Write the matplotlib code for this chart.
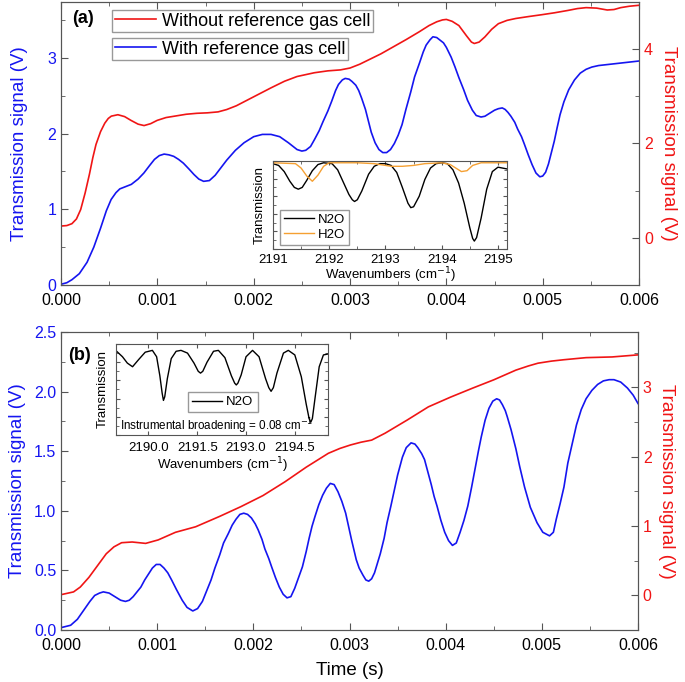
#!/usr/bin/env python3

import numpy
import matplotlib
matplotlib.use('Agg')
import matplotlib.pyplot as plt

plt.rcParams['font.family'] = ['Liberation Sans', 'DejaVu Sans']

# ---- panel (a): time (s), blue = with reference cell (left axis), red = without (right axis)
t_a_blue = [0, 0.00006, 0.000113, 0.00019, 0.00027, 0.00034, 0.00041, 0.00047, 0.00052, 0.00057,
            0.00061, 0.00067, 0.00073, 0.0008, 0.00086, 0.00092, 0.00097, 0.00102, 0.00107, 0.00112,
            0.00117, 0.00122, 0.00127, 0.00133, 0.00138, 0.00143, 0.00148, 0.00154, 0.00160, 0.00166,
            0.00172, 0.00181, 0.00190, 0.00200, 0.00209, 0.00218, 0.00227, 0.00236, 0.00245, 0.00250,
            0.00254, 0.00259, 0.00263, 0.00268, 0.00272, 0.00277, 0.00281, 0.00285, 0.00288, 0.00292,
            0.00295, 0.00299, 0.00302, 0.00306, 0.00309, 0.00312, 0.00316, 0.00319, 0.00322, 0.00326,
            0.00330, 0.00334, 0.00338, 0.00342, 0.00346, 0.00350, 0.00354, 0.00358, 0.00363, 0.00367,
            0.00372, 0.00376, 0.00379, 0.00383, 0.00386, 0.00390, 0.00393, 0.00397, 0.00400, 0.00405,
            0.00409, 0.00413, 0.00418, 0.00422, 0.00427, 0.00431, 0.00436, 0.00440, 0.00445, 0.00450,
            0.00454, 0.00458, 0.00461, 0.00464, 0.00467, 0.00471, 0.00474, 0.00478, 0.00481, 0.00485,
            0.00489, 0.00493, 0.00497, 0.00500, 0.00503, 0.00506, 0.00508, 0.00512, 0.00515, 0.00518,
            0.00522, 0.00527, 0.00533, 0.00539, 0.00545, 0.00551, 0.00558, 0.00565, 0.00572, 0.00586,
            0.006]
v_a_blue = [0.01, 0.03, 0.07, 0.15, 0.30, 0.50, 0.75, 0.98, 1.13, 1.22,
            1.27, 1.30, 1.33, 1.40, 1.48, 1.58, 1.66, 1.71, 1.73, 1.72,
            1.70, 1.66, 1.61, 1.53, 1.46, 1.40, 1.37, 1.38, 1.45, 1.55,
            1.65, 1.78, 1.88, 1.96, 1.99, 1.99, 1.96, 1.88, 1.79, 1.77,
            1.78, 1.83, 1.92, 2.04, 2.16, 2.30, 2.43, 2.57, 2.65, 2.71,
            2.73, 2.72, 2.69, 2.64, 2.57, 2.47, 2.32, 2.17, 2.02, 1.88,
            1.79, 1.75, 1.75, 1.79, 1.87, 1.98, 2.12, 2.32, 2.55, 2.75,
            2.93, 3.08, 3.17, 3.24, 3.28, 3.27, 3.24, 3.20, 3.14, 3.01,
            2.88, 2.74, 2.58, 2.44, 2.31, 2.24, 2.22, 2.23, 2.27, 2.31,
            2.33, 2.34, 2.32, 2.28, 2.23, 2.15, 2.06, 1.96, 1.86, 1.72,
            1.59, 1.48, 1.43, 1.44, 1.49, 1.60, 1.70, 1.90, 2.08, 2.25,
            2.42, 2.58, 2.71, 2.80, 2.85, 2.88, 2.90, 2.91, 2.92, 2.94,
            2.96]

t_a_red = [0, 0.00006, 0.000113, 0.00016, 0.000204, 0.00025, 0.000295, 0.00033, 0.000363, 0.00041,
           0.000454, 0.00049, 0.000522, 0.00059, 0.00066, 0.000726, 0.0008, 0.000862, 0.00093, 0.000998,
           0.00109, 0.00118, 0.0013, 0.00141, 0.00152, 0.00163, 0.00172, 0.00182, 0.0020, 0.00218,
           0.00232, 0.00245, 0.00263, 0.00277, 0.0029, 0.0030, 0.0031, 0.00318, 0.00332, 0.00345,
           0.00358, 0.00372, 0.00382, 0.0039, 0.00396, 0.0040, 0.00406, 0.00413, 0.00421, 0.00426,
           0.00429, 0.00434, 0.0044, 0.00447, 0.00454, 0.00463, 0.00472, 0.00485, 0.00499, 0.00512,
           0.00526, 0.00536, 0.00545, 0.00556, 0.00567, 0.00574, 0.00581, 0.0059, 0.006]
v_a_red = [0.25, 0.26, 0.30, 0.40, 0.60, 0.95, 1.35, 1.70, 1.98, 2.25,
           2.43, 2.53, 2.58, 2.61, 2.57, 2.49, 2.41, 2.38, 2.42, 2.49,
           2.55, 2.58, 2.62, 2.64, 2.65, 2.67, 2.72, 2.80, 2.99, 3.18,
           3.32, 3.42, 3.50, 3.54, 3.56, 3.60, 3.68, 3.76, 3.90, 4.05,
           4.20, 4.37, 4.50, 4.58, 4.62, 4.63, 4.59, 4.50, 4.28, 4.15,
           4.12, 4.15, 4.26, 4.42, 4.54, 4.61, 4.65, 4.69, 4.73, 4.77,
           4.82, 4.86, 4.88, 4.87, 4.83, 4.84, 4.88, 4.91, 4.93]

# ---- panel (b)
t_b_blue = [0, 0.0001, 0.00017, 0.00024, 0.0003, 0.00035, 0.0004, 0.00044, 0.0005, 0.00056, 0.00062,
            0.00067, 0.00071, 0.00075, 0.00079, 0.00083, 0.00087, 0.00091, 0.00095, 0.00099, 0.00103,
            0.00107, 0.00111, 0.00115, 0.0012, 0.00126, 0.00131, 0.00137, 0.00142, 0.00147, 0.00151,
            0.00156, 0.0016, 0.00165, 0.00169, 0.00174, 0.00178, 0.00182, 0.00186, 0.0019, 0.00194,
            0.00198, 0.00202, 0.00205, 0.00209, 0.00212, 0.00216, 0.00219, 0.00223, 0.00227, 0.00231,
            0.00235, 0.00239, 0.00243, 0.00247, 0.00251, 0.00255, 0.00258, 0.00261, 0.00264, 0.00268,
            0.00272, 0.00276, 0.0028, 0.00284, 0.00288, 0.00292, 0.00296, 0.00299, 0.00302, 0.00305,
            0.00307, 0.0031, 0.00314, 0.00317, 0.0032, 0.00323, 0.00326, 0.00329, 0.00332, 0.00336,
            0.00339, 0.00343, 0.00346, 0.0035, 0.00355, 0.00359, 0.00364, 0.00368, 0.00371, 0.00375,
            0.00378, 0.00381, 0.00385, 0.00388, 0.00391, 0.00395, 0.00399, 0.00403, 0.00407, 0.00411,
            0.00415, 0.00419, 0.00423, 0.00427, 0.0043, 0.00434, 0.00437, 0.00441, 0.00445, 0.00449,
            0.00453, 0.00456, 0.00459, 0.00462, 0.00464, 0.00468, 0.00473, 0.00477, 0.00482, 0.00488,
            0.00495, 0.00501, 0.00508, 0.00512, 0.00515, 0.00519, 0.00523, 0.00527, 0.00532, 0.00536,
            0.00541, 0.00546, 0.00552, 0.00558, 0.00564, 0.0057, 0.00575, 0.00582, 0.00589, 0.00595,
            0.006]
v_b_blue = [0.02, 0.04, 0.09, 0.17, 0.24, 0.29, 0.31, 0.32, 0.31, 0.28, 0.25,
            0.24, 0.25, 0.28, 0.32, 0.36, 0.42, 0.47, 0.52, 0.55, 0.55,
            0.52, 0.48, 0.42, 0.34, 0.25, 0.19, 0.16, 0.18, 0.24, 0.32,
            0.42, 0.52, 0.63, 0.73, 0.81, 0.88, 0.93, 0.97, 0.98, 0.97,
            0.94, 0.89, 0.84, 0.76, 0.68, 0.60, 0.53, 0.44, 0.36, 0.30,
            0.27, 0.28, 0.35, 0.44, 0.53, 0.66, 0.77, 0.87, 0.95, 1.05,
            1.13, 1.19, 1.23, 1.22, 1.16, 1.08, 0.98, 0.87, 0.76, 0.66,
            0.59, 0.52, 0.46, 0.42, 0.41, 0.43, 0.48, 0.56, 0.64, 0.77,
            0.90, 1.04, 1.15, 1.30, 1.45, 1.53, 1.57, 1.56, 1.53, 1.48,
            1.43, 1.34, 1.22, 1.12, 1.04, 0.92, 0.82, 0.75, 0.71, 0.73,
            0.82, 0.92, 1.04, 1.20, 1.33, 1.50, 1.62, 1.76, 1.86, 1.92,
            1.94, 1.93, 1.89, 1.84, 1.79, 1.68, 1.52, 1.37, 1.20, 1.03,
            0.90, 0.82, 0.79, 0.82, 0.93, 1.06, 1.20, 1.40, 1.58, 1.72,
            1.85, 1.94, 2.01, 2.06, 2.09, 2.10, 2.10, 2.08, 2.03, 1.97,
            1.90]

t_b_red = [0, 0.00013, 0.0002, 0.00029, 0.00038, 0.00047, 0.00055, 0.00063, 0.00074, 0.00088,
           0.00101, 0.00119, 0.0014, 0.00165, 0.00187, 0.0021, 0.00233, 0.00255, 0.00278, 0.0029,
           0.00301, 0.00312, 0.00323, 0.00337, 0.0036, 0.00382, 0.00405, 0.00428, 0.0045, 0.00473,
           0.00486, 0.00496, 0.0051, 0.00523, 0.00546, 0.00573, 0.006]
v_b_red = [0.01, 0.05, 0.12, 0.26, 0.43, 0.60, 0.70, 0.76, 0.77, 0.75,
           0.80, 0.91, 0.99, 1.14, 1.28, 1.44, 1.64, 1.85, 2.05, 2.12,
           2.17, 2.21, 2.24, 2.34, 2.53, 2.72, 2.86, 2.99, 3.11, 3.25,
           3.31, 3.35, 3.38, 3.40, 3.43, 3.44, 3.47]

# ---- inset (a): simulated spectra
wn_a_n2o = [2191.0, 2191.1, 2191.2, 2191.3, 2191.38, 2191.45, 2191.52, 2191.6, 2191.7, 2191.8,
            2191.9, 2192.05, 2192.15, 2192.25, 2192.35, 2192.41, 2192.45, 2192.5, 2192.58, 2192.7,
            2192.8, 2192.9, 2193.0, 2193.1, 2193.2, 2193.3, 2193.4, 2193.45, 2193.5, 2193.6,
            2193.7, 2193.8, 2193.9, 2194.0, 2194.1, 2194.2, 2194.3, 2194.4, 2194.5, 2194.55,
            2194.58, 2194.62, 2194.7, 2194.8, 2194.9, 2195.0, 2195.16]
tr_a_n2o = [0.97, 0.95, 0.88, 0.77, 0.70, 0.68, 0.70, 0.78, 0.89, 0.96,
            0.98, 0.97, 0.90, 0.76, 0.62, 0.56, 0.54, 0.56, 0.66, 0.85,
            0.94, 0.97, 0.97, 0.95, 0.87, 0.70, 0.52, 0.47, 0.48, 0.60,
            0.79, 0.92, 0.97, 0.98, 0.97, 0.90, 0.75, 0.52, 0.24, 0.12,
            0.09, 0.13, 0.35, 0.68, 0.88, 0.93, 0.91]
wn_a_h2o = [2191.0, 2191.4, 2191.5, 2191.6, 2191.7, 2191.8, 2191.9, 2192.0, 2192.5, 2192.8,
            2193.0, 2193.1, 2193.3, 2193.5, 2193.7, 2194.0, 2194.15, 2194.25, 2194.35, 2194.45,
            2194.55, 2194.7, 2195.16]
tr_a_h2o = [0.98, 0.97, 0.92, 0.83, 0.77, 0.84, 0.94, 0.98, 0.98, 0.97,
            0.95, 0.94, 0.94, 0.95, 0.97, 0.98, 0.96, 0.92, 0.88, 0.89,
            0.95, 0.98, 0.98]

# ---- inset (b)
wn_b = [2189.02, 2189.2, 2189.35, 2189.51, 2189.7, 2189.9, 2190.12, 2190.25, 2190.35, 2190.42,
        2190.46, 2190.5, 2190.58, 2190.7, 2190.85, 2191.0, 2191.2, 2191.4, 2191.53, 2191.6,
        2191.67, 2191.8, 2192.0, 2192.15, 2192.35, 2192.55, 2192.65, 2192.7, 2192.75, 2192.85,
        2193.0, 2193.2, 2193.4, 2193.6, 2193.7, 2193.77, 2193.84, 2193.95, 2194.15, 2194.3,
        2194.5, 2194.7, 2194.85, 2194.94, 2194.99, 2195.04, 2195.12, 2195.25, 2195.38, 2195.52]
tr_b = [0.92, 0.86, 0.79, 0.75, 0.83, 0.91, 0.93, 0.86, 0.65, 0.46,
        0.38, 0.42, 0.62, 0.84, 0.92, 0.93, 0.90, 0.79, 0.70, 0.68,
        0.70, 0.80, 0.92, 0.93, 0.85, 0.65, 0.57, 0.55, 0.57, 0.66,
        0.86, 0.93, 0.86, 0.62, 0.52, 0.48, 0.52, 0.68, 0.90, 0.93,
        0.88, 0.64, 0.34, 0.18, 0.14, 0.18, 0.40, 0.75, 0.88, 0.89]

BLUE = '#1515f0'
RED = '#f01515'
SPINE = '#555555'
ORANGE = '#f5a032'


def style_axis(ax, size=11.5):
    for s in ax.spines.values():
        s.set_color(SPINE)
    ax.tick_params(which='both', direction='in', colors=SPINE, labelsize=size)
    ax.tick_params(which='major', length=5)
    ax.tick_params(which='minor', length=3)


def legend_box(ax, handle, label, y):
    leg = ax.legend([handle], [label], loc='upper left', bbox_to_anchor=(0.088, y),
                    borderaxespad=0, fontsize=13, fancybox=False, framealpha=1,
                    edgecolor='#999999', handlelength=2.3, borderpad=0.15,
                    handletextpad=0.3)
    leg.get_frame().set_linewidth(1.0)
    return leg


fig = plt.figure(figsize=(6.85, 6.82), dpi=100)

# ---------------- panel (a)
ax1 = fig.add_axes([0.0891, 0.5821, 0.8438, 0.415])
ax1b = ax1.twinx()
lb, = ax1.plot(t_a_blue, v_a_blue, color=BLUE, lw=1.2)
lr, = ax1b.plot(t_a_red, v_a_red, color=RED, lw=1.2)
ax1.set_xlim(0, 0.006)
ax1.set_ylim(0, 3.74)
ax1b.set_ylim(-1.0, 5.0)
ax1.set_xticks(numpy.arange(0, 0.0061, 0.001))
ax1.set_xticks(numpy.arange(0, 0.0061, 0.0005), minor=True)
ax1.set_xticklabels(['%.3f' % v for v in numpy.arange(0, 0.0061, 0.001)])
ax1.set_yticks([0, 1, 2, 3])
ax1.set_yticks([0.5, 1.5, 2.5, 3.5], minor=True)
ax1b.set_yticks([0, 2, 4])
ax1b.set_yticks([-1, 1, 3, 5], minor=True)
style_axis(ax1)
style_axis(ax1b)
ax1.tick_params(axis='x', which='both', top=True, colors=SPINE, labelcolor='black', pad=6)
ax1.tick_params(axis='y', labelcolor=BLUE)
ax1b.tick_params(axis='y', labelcolor=RED)
ax1.set_ylabel('Transmission signal (V)', color=BLUE, fontsize=13.5, labelpad=14)
ax1b.set_ylabel('Transmission signal (V)', color=RED, fontsize=13.5, rotation=270, labelpad=17)
ax1.text(0.02, 0.94, '(a)', transform=ax1.transAxes, fontsize=13, fontweight='bold', va='center')
legend_box(ax1b, lr, 'Without reference gas cell', 0.972)
legend_box(ax1, lb, 'With reference gas cell', 0.873)

# inset (a)
ins1 = fig.add_axes([0.3985, 0.6349, 0.3416, 0.129])
ins1.plot(wn_a_n2o, tr_a_n2o, color='black', lw=1.0, label='N2O')
ins1.plot(wn_a_h2o, tr_a_h2o, color=ORANGE, lw=1.0, label='H2O')
ins1.set_xlim(2191, 2195.16)
ins1.set_ylim(0, 1)
ins1.set_xticks([2191, 2192, 2193, 2194, 2195])
ins1.set_xticks(numpy.arange(2191, 2195.2, 0.5), minor=True)
ins1.set_yticks(numpy.arange(0, 1.01, 0.2))
ins1.set_yticks(numpy.arange(0.1, 1.0, 0.2), minor=True)
ins1.set_yticklabels([])
style_axis(ins1, size=9.5)
ins1.tick_params(which='both', top=True, right=True, labelcolor='black')
ins1.tick_params(which='major', length=3)
ins1.tick_params(which='minor', length=2)
ins1.set_ylabel('Transmission', fontsize=9.5, labelpad=2)
ins1.set_xlabel('Wavenumbers (cm$^{-1}$)', fontsize=9.5, labelpad=0)
ins1.legend(loc='lower left', fontsize=9.5, fancybox=False, framealpha=1, edgecolor='#999999',
            handlelength=2.3, borderpad=0.3, handletextpad=0.3, labelspacing=0.2,
            bbox_to_anchor=(0.03, 0.05), borderaxespad=0)

# ---------------- panel (b)
ax2 = fig.add_axes([0.0891, 0.0762, 0.8423, 0.437])
ax2b = ax2.twinx()
ax2.plot(t_b_blue, v_b_blue, color=BLUE, lw=1.2)
ax2b.plot(t_b_red, v_b_red, color=RED, lw=1.2)
ax2.set_xlim(0, 0.006)
ax2.set_ylim(0, 2.5)
ax2b.set_ylim(-0.5, 3.8)
ax2.set_xticks(numpy.arange(0, 0.0061, 0.001))
ax2.set_xticks(numpy.arange(0, 0.0061, 0.0005), minor=True)
ax2.set_xticklabels(['%.3f' % v for v in numpy.arange(0, 0.0061, 0.001)])
ax2.set_yticks(numpy.arange(0, 2.51, 0.5))
ax2.set_yticklabels(['%.1f' % v for v in numpy.arange(0, 2.51, 0.5)])
ax2.set_yticks(numpy.arange(0.25, 2.5, 0.5), minor=True)
ax2b.set_yticks([0, 1, 2, 3])
ax2b.set_yticks([-0.5, 0.5, 1.5, 2.5, 3.5], minor=True)
style_axis(ax2)
style_axis(ax2b)
ax2.tick_params(axis='x', which='both', top=True, colors=SPINE, labelcolor='black', pad=6)
ax2.tick_params(axis='y', labelcolor=BLUE)
ax2b.tick_params(axis='y', labelcolor=RED)
ax2.set_ylabel('Transmission signal (V)', color=BLUE, fontsize=13.5, labelpad=6)
ax2b.set_ylabel('Transmission signal (V)', color=RED, fontsize=13.5, rotation=270, labelpad=17)
ax2.set_xlabel('Time (s)', fontsize=13.5, labelpad=6)
ax2.text(0.012, 0.92, '(b)', transform=ax2.transAxes, fontsize=13, fontweight='bold', va='center')

# inset (b)
ins2 = fig.add_axes([0.1693, 0.3622, 0.3095, 0.1334])
ins2.plot(wn_b, tr_b, color='black', lw=1.0, label='N2O')
ins2.set_xlim(2189.0, 2195.52)
ins2.set_ylim(0, 1)
ins2.set_xticks([2190.0, 2191.5, 2193.0, 2194.5])
ins2.set_xticklabels(['2190.0', '2191.5', '2193.0', '2194.5'])
ins2.set_yticks(numpy.arange(0, 1.01, 0.2))
ins2.set_yticks(numpy.arange(0.1, 1.0, 0.2), minor=True)
ins2.set_yticklabels([])
style_axis(ins2, size=9.5)
ins2.tick_params(which='both', top=True, right=True, labelcolor='black')
ins2.tick_params(axis='x', pad=5)
ins2.tick_params(which='major', length=3)
ins2.tick_params(which='minor', length=2)
ins2.set_ylabel('Transmission', fontsize=9.5, labelpad=2)
ins2.set_xlabel('Wavenumbers (cm$^{-1}$)', fontsize=9.5, labelpad=1)
ins2.legend(loc='upper left', fontsize=9.5, fancybox=False, framealpha=1, edgecolor='#999999',
            handlelength=2.3, borderpad=0.3, handletextpad=0.3,
            bbox_to_anchor=(0.34, 0.47), borderaxespad=0)
ins2.text(0.02, 0.1, 'Instrumental broadening = 0.08 cm$^{-1}$', transform=ins2.transAxes,
          fontsize=8.4, va='center')

fig.savefig('out.png', dpi=100)
